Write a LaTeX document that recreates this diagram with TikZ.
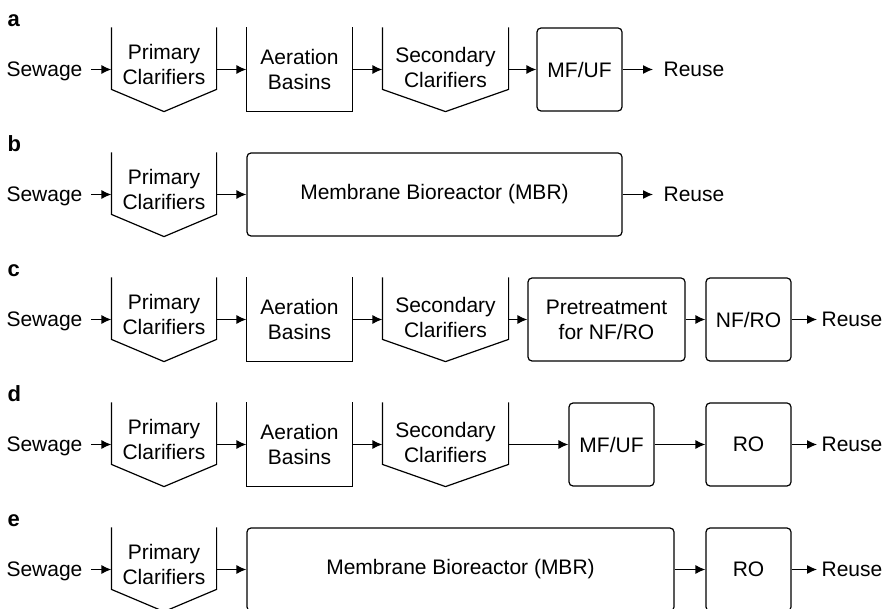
\documentclass[tikz,border=0pt]{standalone}
\usepackage{fontspec}
\setmainfont{Liberation Sans}
\usetikzlibrary{arrows.meta, calc}
\tikzset{
	every node/.style={font=\fontsize{10.5}{12.5}\selectfont},
	unit/.style={align=center, inner sep=0pt, minimum height=41.5pt},
	membrane/.style={unit, draw, rounded corners=2pt},
	clarifier/.style={unit, execute at end node={\rule[-#1]{0pt}{#1}}},
	clarifier/.default=4pt,
	tag/.style={anchor=base west, inner sep=0pt, font=\fontsize{11}{13}\selectfont\bfseries},
	inflow/.style={anchor=east, inner xsep=4pt, inner ysep=0pt, text depth=0pt},
	outflow/.style={anchor=west, inner xsep=#1, inner ysep=0pt, text depth=0pt},
	flow/.style={-{Latex[length=5pt, width=4.5pt]}, line width=.6pt},
}

\begin{document}
\begin{tikzpicture}[x=.5pt, y=-.5pt, line width=.6pt]
	\useasboundingbox (0, 0) rectangle (885, 609);
	% a
	\node[tag] (la) at (7, 27) {a};
	\node[inflow] (sa) at (91, 69.5) {Sewage};
	\node[clarifier=5pt, minimum width=52pt] (a1) at (164, 69.5) {Primary\\Clarifiers};
	\node[unit, minimum width=52.5pt] (a2) at (299.5, 69.5) {Aeration\\Basins};
	\node[clarifier=2pt, minimum width=62.5pt] (a3) at (445.5, 69.5) {Secondary\\Clarifiers};
	\node[membrane, minimum width=42.5pt] (a4) at (579.5, 69.5) {MF/UF};
	\node[outflow=5pt] (ra) at (653, 69.5) {Reuse};
	% b
	\node[tag] (lb) at (7, 152) {b};
	\node[inflow] (sb) at (91, 194.5) {Sewage};
	\node[clarifier=5pt, minimum width=52pt] (b1) at (164, 194.5) {Primary\\Clarifiers};
	\node[membrane, minimum width=187.5pt] (b2) at (434.5, 194.5) {Membrane Bioreactor (MBR)};
	\node[outflow=5pt] (rb) at (653, 194.5) {Reuse};
	% c
	\node[tag] (lc) at (7, 277) {c};
	\node[inflow] (sc) at (91, 319.5) {Sewage};
	\node[clarifier=5pt, minimum width=52pt] (c1) at (164, 319.5) {Primary\\Clarifiers};
	\node[unit, minimum width=52.5pt] (c2) at (299.5, 319.5) {Aeration\\Basins};
	\node[clarifier=2pt, minimum width=62.5pt] (c3) at (445.5, 319.5) {Secondary\\Clarifiers};
	\node[membrane, minimum width=78.5pt] (c4) at (606.5, 319.5) {Pretreatment\\for NF/RO};
	\node[membrane, minimum width=42.5pt] (c5) at (748.5, 319.5) {NF/RO};
	\node[outflow=2pt] (rc) at (817, 319.5) {Reuse};
	% d
	\node[tag] (ld) at (7, 402) {d};
	\node[inflow] (sd) at (91, 444.5) {Sewage};
	\node[clarifier=5pt, minimum width=52pt] (d1) at (164, 444.5) {Primary\\Clarifiers};
	\node[unit, minimum width=52.5pt] (d2) at (299.5, 444.5) {Aeration\\Basins};
	\node[clarifier=2pt, minimum width=62.5pt] (d3) at (445.5, 444.5) {Secondary\\Clarifiers};
	\node[membrane, minimum width=42.5pt] (d4) at (611.5, 444.5) {MF/UF};
	\node[membrane, minimum width=42.5pt] (d5) at (748.5, 444.5) {RO};
	\node[outflow=2pt] (rd) at (817, 444.5) {Reuse};
	% e
	\node[tag] (le) at (7, 527) {e};
	\node[inflow] (se) at (91, 569.5) {Sewage};
	\node[clarifier=5pt, minimum width=52pt] (e1) at (164, 569.5) {Primary\\Clarifiers};
	\node[membrane, minimum width=213.5pt] (e2) at (460.5, 569.5) {Membrane Bioreactor (MBR)};
	\node[membrane, minimum width=42.5pt] (e3) at (748.5, 569.5) {RO};
	\node[outflow=2pt] (re) at (817, 569.5) {Reuse};

	% open basins
	\foreach \n in {a2, c2, d2}
		\draw (\n.north west) -- (\n.south west) -- (\n.south east) -- (\n.north east);
	% clarifiers, open on top with a sloped floor
	\foreach \n in {a1, a3, b1, c1, c3, d1, d3, e1}
		\draw (\n.north west) -- ($(\n.north west)+(0, 62)$) -- (\n.south) -- ($(\n.north east)+(0, 62)$) -- (\n.north east);

	\draw[flow] (sa) -- (a1); \draw[flow] (a1) -- (a2); \draw[flow] (a2) -- (a3);
	\draw[flow] (a3) -- (a4); \draw[flow] (a4) -- (ra);
	\draw[flow] (sb) -- (b1); \draw[flow] (b1) -- (b2); \draw[flow] (b2) -- (rb);
	\draw[flow] (sc) -- (c1); \draw[flow] (c1) -- (c2); \draw[flow] (c2) -- (c3);
	\draw[flow] (c3) -- (c4); \draw[flow] (c4) -- (c5); \draw[flow] (c5) -- (rc);
	\draw[flow] (sd) -- (d1); \draw[flow] (d1) -- (d2); \draw[flow] (d2) -- (d3);
	\draw[flow] (d3) -- (d4); \draw[flow] (d4) -- (d5); \draw[flow] (d5) -- (rd);
	\draw[flow] (se) -- (e1); \draw[flow] (e1) -- (e2); \draw[flow] (e2) -- (e3);
	\draw[flow] (e3) -- (re);
\end{tikzpicture}
\end{document}
